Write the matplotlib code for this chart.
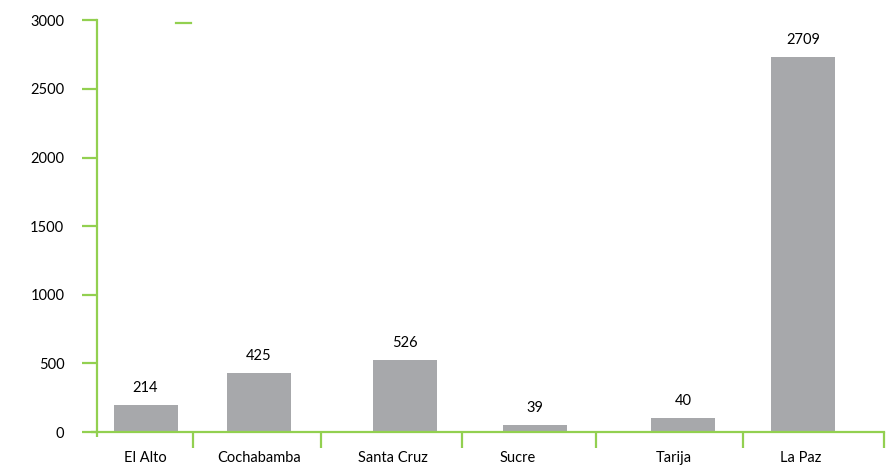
import matplotlib.pyplot as plt

# Données
cities = ['El Alto', 'Cochabamba', 'Santa Cruz', 'Sucre', 'Tarija', 'La Paz']
bar_heights = [197, 430, 525, 51, 102, 2733]
value_labels = ['214', '425', '526', '39', '40', '2709']

# Mise en page (positions en pixels depuis l'axe vertical)
bar_pos = [48.5, 162, 308, 438, 586, 706]
label_pos = [48, 162, 296, 421, 577, 704]
boundaries = [0, 96, 224, 365, 499, 646, 787]

green = '#92D050'
grey = '#A7A8AB'

plt.rcParams['font.family'] = ['Lato', 'DejaVu Sans']

fig = plt.figure(figsize=(8.96, 4.68), dpi=100)
ax = fig.add_axes([97 / 896, 1 - 432 / 468, 787 / 896, (432 - 20.4) / 468])

ax.bar(bar_pos, bar_heights, width=64, color=grey)
for x, h, lab in zip(bar_pos, bar_heights, value_labels):
    ax.annotate(lab, (x, h), xytext=(0, 12), textcoords='offset points',
                ha='center', va='center', fontsize=10.5, color='black')

ax.set_xlim(0, 787)
ax.set_ylim(0, 3000)
ax.set_yticks(range(0, 3001, 500))

ax.set_xticks(label_pos)
ax.set_xticklabels(cities, fontsize=10.5)
ax.set_xticks(boundaries[1:], minor=True)
ax.tick_params(axis='x', which='major', length=0, pad=14)
ax.tick_params(axis='x', which='minor', length=11.5, width=1.6, color=green)
ax.tick_params(axis='y', length=10.5, width=1.6, color=green, pad=13, labelsize=10.5)

for s in ['top', 'right']:
    ax.spines[s].set_visible(False)
for s in ['left', 'bottom']:
    ax.spines[s].set_color(green)
    ax.spines[s].set_linewidth(1.6)

# prolongements des axes
ax.plot([-6, 0], [0, 0], color=green, lw=1.6, clip_on=False, solid_capstyle='butt')
ax.plot([0, 0], [0, -35], color=green, lw=1.6, clip_on=False, solid_capstyle='butt')

# petit trait vert en haut
ax.plot([79 / 787, 94 / 787], [0.993, 0.993], transform=ax.transAxes,
        color=green, lw=1.6, clip_on=False)

fig.savefig('out.png', dpi=100)
